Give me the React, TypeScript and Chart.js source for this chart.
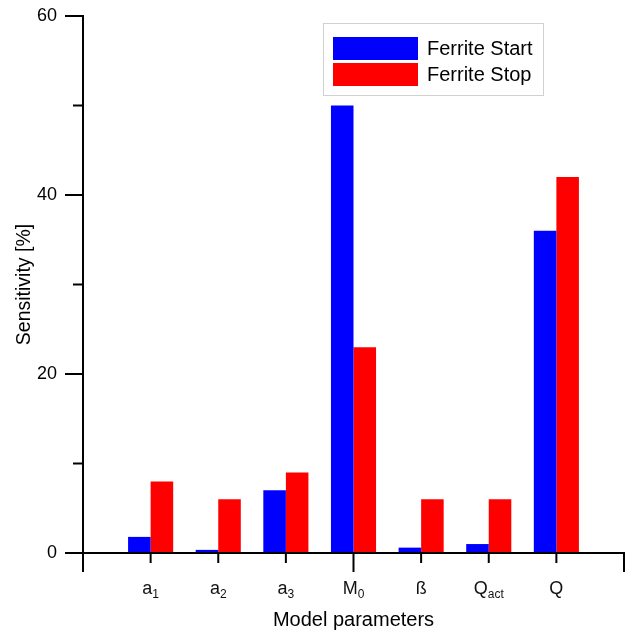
import React, { useEffect, useRef } from "react";
import { Chart, registerables } from "chart.js";

Chart.register(...registerables);

const categories = ["a", "a", "a", "M", "ß", "Q", "Q"];
const subscripts = ["1", "2", "3", "0", "", "act", ""];
const categoryPositions = [1, 2, 3, 4, 5, 6, 7];
const ferriteStart = [1.8, 0.35, 7, 50, 0.6, 1.0, 36];
const ferriteStop = [8, 6, 9, 23, 6, 6, 42];
const yTicks = [0, 10, 20, 30, 40, 50, 60];
const yLabeled = [0, 20, 40, 60];
const xMajor = [0, 4, 8];

const FONT = "'Liberation Sans', Arial, sans-serif";

const axesPlugin = {
  id: "customAxes",
  afterDraw(chart: any) {
    const { ctx, chartArea, scales } = chart;
    const xs = scales.x;
    const ys = scales.y;
    ctx.save();
    ctx.strokeStyle = "#000";
    ctx.lineWidth = 2;
    ctx.lineCap = "butt";
    // y axis line
    ctx.beginPath();
    ctx.moveTo(chartArea.left, ys.getPixelForValue(60) - 1);
    ctx.lineTo(chartArea.left, ys.getPixelForValue(0));
    ctx.stroke();
    // x axis line
    const y0 = ys.getPixelForValue(0);
    ctx.beginPath();
    ctx.moveTo(chartArea.left, y0);
    ctx.lineTo(xs.getPixelForValue(8) + 1, y0);
    ctx.stroke();
    // y ticks
    yTicks.forEach((v) => {
      const py = ys.getPixelForValue(v);
      const len = yLabeled.includes(v) ? 18 : 10;
      ctx.beginPath();
      ctx.moveTo(chartArea.left - len, py);
      ctx.lineTo(chartArea.left, py);
      ctx.stroke();
    });
    // x ticks
    for (let v = 0; v <= 8; v++) {
      const px = xs.getPixelForValue(v);
      const len = xMajor.includes(v) ? 19 : 10;
      ctx.beginPath();
      ctx.moveTo(px, y0);
      ctx.lineTo(px, y0 + len);
      ctx.stroke();
    }
    // category labels with subscripts
    ctx.fillStyle = "#111";
    ctx.textBaseline = "alphabetic";
    ctx.textAlign = "left";
    categories.forEach((c, i) => {
      const px = xs.getPixelForValue(categoryPositions[i]);
      ctx.font = `18px ${FONT}`;
      const w1 = ctx.measureText(c).width;
      ctx.font = `12px ${FONT}`;
      const w2 = subscripts[i] ? ctx.measureText(subscripts[i]).width : 0;
      const start = px - (w1 + w2) / 2;
      ctx.font = `18px ${FONT}`;
      ctx.fillText(c, start, 594);
      if (subscripts[i]) {
        ctx.font = `12px ${FONT}`;
        ctx.fillText(subscripts[i], start + w1, 598);
      }
    });
    // legend
    const lx = 323, ly = 23, lw = 220, lh = 72;
    ctx.fillStyle = "#fff";
    ctx.fillRect(lx, ly, lw, lh);
    ctx.strokeStyle = "#d0d0d0";
    ctx.lineWidth = 1;
    ctx.strokeRect(lx + 0.5, ly + 0.5, lw, lh);
    const items = [
      { label: chart.data.datasets[0].label, color: "#0000ff", y: 37 },
      { label: chart.data.datasets[1].label, color: "#ff0000", y: 63 },
    ];
    items.forEach((it) => {
      ctx.fillStyle = it.color;
      ctx.fillRect(333, it.y, 85, 23);
      ctx.fillStyle = "#000";
      ctx.font = `20px ${FONT}`;
      ctx.textBaseline = "middle";
      ctx.fillText(it.label, 427, it.y + 12);
    });
    ctx.restore();
  },
};

export default function App() {
  const ref = useRef<HTMLCanvasElement | null>(null);
  useEffect(() => {
    if (!ref.current) return;
    const chart = new Chart(ref.current, {
      type: "bar",
      data: {
        datasets: [
          {
            label: "Ferrite Start",
            data: categoryPositions.map((x, i) => ({ x, y: ferriteStart[i] })),
            backgroundColor: "#0000ff",
            borderWidth: 0,
          },
          {
            label: "Ferrite Stop",
            data: categoryPositions.map((x, i) => ({ x, y: ferriteStop[i] })),
            backgroundColor: "#ff0000",
            borderWidth: 0,
          },
        ],
      },
      options: {
        animation: false,
        responsive: false,
        maintainAspectRatio: false,
        categoryPercentage: 0.667,
        barPercentage: 1,
        layout: { padding: { left: 0, right: 5, top: 16, bottom: 0 } },
        plugins: { legend: { display: false }, tooltip: { enabled: false } },
        scales: {
          x: {
            type: "linear",
            min: 0,
            max: 8,
            offset: false,
            grid: { display: false, drawTicks: false },
            border: { display: false },
            ticks: { display: false, stepSize: 1 },
            title: {
              display: true,
              text: "Model parameters",
              color: "#000",
              font: { family: FONT, size: 20 },
              padding: { top: 0, bottom: 0 },
            },
            afterFit: (s: any) => {
              s.height = 79;
              s.paddingLeft = 0;
              s.paddingRight = 0;
            },
          },
          y: {
            min: 0,
            max: 60,
            grid: { display: false, drawTicks: false },
            border: { display: false },
            ticks: {
              stepSize: 10,
              color: "#000",
              padding: 26,
              font: { family: FONT, size: 18 },
              callback: (v: any) => (yLabeled.includes(Number(v)) ? String(v) : ""),
            },
            title: {
              display: true,
              text: "Sensitivity [%]",
              color: "#000",
              font: { family: FONT, size: 19.5 },
              padding: { top: 13, bottom: 0 },
            },
            afterFit: (s: any) => {
              s.width = 83;
              s.paddingTop = 0;
              s.paddingBottom = 0;
            },
          },
        },
      },
      plugins: [axesPlugin],
    });
    return () => chart.destroy();
  }, []);
  return (
    <div style={{ position: "fixed", left: 0, top: 0, width: 629, height: 632, background: "#fff" }}>
      <canvas ref={ref} width={629} height={632} style={{ display: "block" }} />
    </div>
  );
}
